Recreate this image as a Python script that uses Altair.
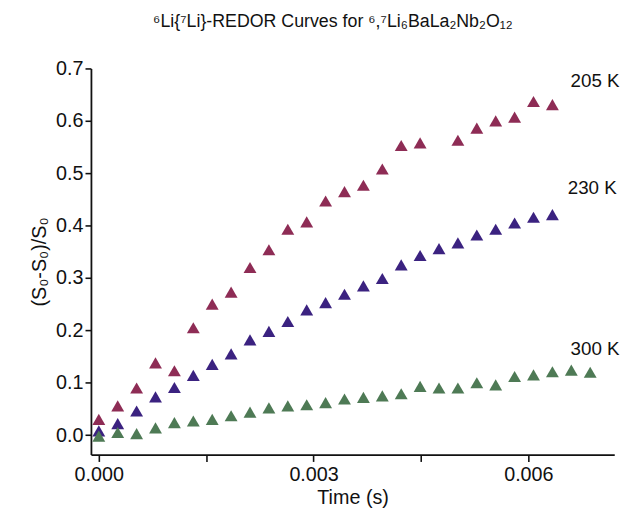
import altair as alt
import pandas as pd

# sampling times (s)
times = [0, 0.000264, 0.000528, 0.000792, 0.001056, 0.00132, 0.001584, 0.001848,
         0.002112, 0.002376, 0.00264, 0.002904, 0.003168, 0.003432, 0.003696,
         0.00396, 0.004224, 0.004488, 0.004752, 0.005016, 0.00528, 0.005544,
         0.005808, 0.006072, 0.006336, 0.0066, 0.006864]

# 205 K (one missing point at index 18)
idx_205 = [0, 1, 2, 3, 4, 5, 6, 7, 8, 9, 10, 11, 12, 13, 14, 15, 16, 17,
           19, 20, 21, 22, 23, 24]
val_205 = [0.030, 0.056, 0.090, 0.138, 0.123, 0.205, 0.250, 0.273, 0.320, 0.354,
           0.393, 0.407, 0.447, 0.465, 0.477, 0.508, 0.553, 0.558, 0.563, 0.586,
           0.600, 0.607, 0.637, 0.631]

# 230 K
val_230 = [0.008, 0.022, 0.046, 0.073, 0.091, 0.114, 0.135, 0.155, 0.182, 0.198,
           0.217, 0.239, 0.253, 0.269, 0.285, 0.299, 0.325, 0.343, 0.356, 0.367,
           0.382, 0.393, 0.405, 0.416, 0.421]

# 300 K
val_300 = [-0.002, 0.005, 0.003, 0.014, 0.024, 0.027, 0.030, 0.037, 0.044, 0.052,
           0.056, 0.058, 0.062, 0.069, 0.072, 0.075, 0.079, 0.093, 0.090, 0.090,
           0.100, 0.096, 0.112, 0.115, 0.121, 0.124, 0.120]

series_names = ["205 K", "230 K", "300 K"]
series_colors = ["#8E2C55", "#3B2280", "#4E7A55"]

label_t = [0.00659, 0.00655, 0.00659]
label_y = [0.675, 0.471, 0.165]

x_ticks = [0, 0.0015, 0.003, 0.0045, 0.006]
y_ticks = [0, 0.05, 0.1, 0.15, 0.2, 0.25, 0.3, 0.35, 0.4, 0.45, 0.5, 0.55, 0.6, 0.65, 0.7]

rows = []
for i, v in zip(idx_205, val_205):
    rows.append({"t": times[i], "v": v, "series": "205 K"})
for i, v in enumerate(val_230):
    rows.append({"t": times[i], "v": v, "series": "230 K"})
for i, v in enumerate(val_300):
    rows.append({"t": times[i], "v": v, "series": "300 K"})
df = pd.DataFrame(rows)

lab_df = pd.DataFrame({"t": label_t, "v": label_y, "label": series_names})

FONT = "Liberation Sans"

xscale = alt.Scale(domain=[-0.00011, 0.0072], nice=False, zero=False)
yscale = alt.Scale(domain=[-0.037, 0.7], nice=False, zero=False)

points = alt.Chart(df).mark_point(
    shape="triangle-up", filled=True, size=170, opacity=1, strokeWidth=0
).encode(
    x=alt.X("t:Q", scale=xscale, title="Time (s)",
            axis=alt.Axis(values=x_ticks,
                          labelExpr="round(datum.value*2000/3) % 2 == 0 ? format(datum.value, '.3f') : ''",
                          tickSize=7, labelPadding=3, titlePadding=4)),
    y=alt.Y("v:Q", scale=yscale, title="(S₀-S₀)/S₀",
            axis=alt.Axis(values=y_ticks,
                          labelExpr="round(datum.value*20) % 2 == 0 ? format(datum.value, '.1f') : ''",
                          tickSize=6, labelPadding=2, titlePadding=6)),
    color=alt.Color("series:N", scale=alt.Scale(domain=series_names, range=series_colors),
                    legend=None),
)

labels = alt.Chart(lab_df).mark_text(
    align="left", baseline="middle", fontSize=19, font=FONT, color="#111111"
).encode(
    x=alt.X("t:Q", scale=xscale),
    y=alt.Y("v:Q", scale=yscale),
    text="label:N",
)

chart = alt.layer(points, labels).properties(
    width=530, height=391,
    title=alt.TitleParams(
        text="⁶Li{⁷Li}-REDOR Curves for ⁶,⁷Li₆BaLa₂Nb₂O₁₂",
        fontSize=18, font=FONT, fontWeight="normal", color="#111111",
        anchor="middle", baseline="bottom", offset=10, dx=-20,
    ),
    autosize=alt.AutoSizeParams(type="none"),
    padding={"left": 84, "top": 58, "right": 20, "bottom": 56},
).configure_view(stroke=None).configure_axis(
    grid=False, domainColor="#111111", tickColor="#111111", domainWidth=1.8,
    tickWidth=1.6, labelFont=FONT, titleFont=FONT, labelFontSize=20,
    titleFontSize=20, titleFontWeight="normal", labelColor="#111111",
    titleColor="#111111",
)

chart.save("out.html", embed_options={"renderer": "svg", "actions": False})
